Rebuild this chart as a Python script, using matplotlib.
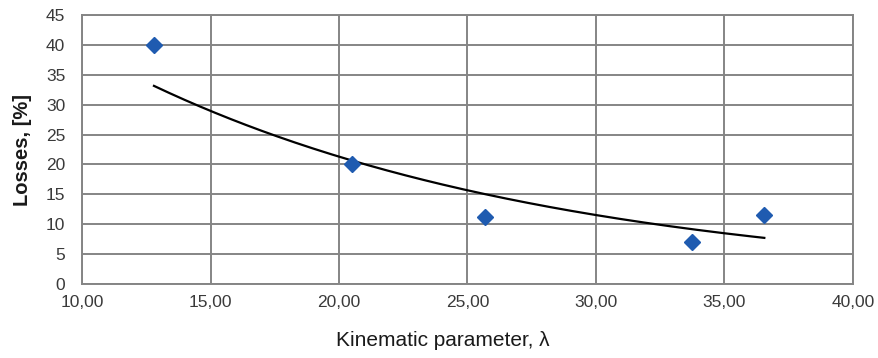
import numpy as np
import matplotlib.pyplot as plt
from matplotlib.ticker import FuncFormatter

lam = [12.8, 20.5, 25.7, 33.75, 36.55]
losses = [40.0, 20.0, 11.2, 7.0, 11.6]

x_ticks = [10, 15, 20, 25, 30, 35, 40]
y_ticks = [0, 5, 10, 15, 20, 25, 30, 35, 40, 45]

# exponential trend line (Excel style) fitted to the points
b, ln_a = np.polyfit(lam, np.log(losses), 1)
xs = np.linspace(min(lam), max(lam), 200)
ys = np.exp(ln_a) * np.exp(b * xs)

plt.rcParams['font.family'] = ['Liberation Sans', 'DejaVu Sans']

fig = plt.figure(figsize=(8.79, 3.58), dpi=100)
ax = fig.add_axes([0.0933, 0.2067, 0.8771, 0.7513])

ax.plot(xs, ys, color='black', lw=1.6, zorder=3)
ax.plot(lam, losses, linestyle='none', marker='D', markersize=8,
        color='#1f5bb0', markeredgecolor='#1f5bb0', zorder=4)

ax.set_xlim(10, 40)
ax.set_ylim(0, 45)
ax.set_xticks(x_ticks)
ax.set_yticks(y_ticks)
ax.xaxis.set_major_formatter(FuncFormatter(lambda v, p: ('%.2f' % v).replace('.', ',')))
ax.grid(True, color='#858585', lw=1.4)
ax.set_axisbelow(True)
for s in ax.spines.values():
    s.set_color('#858585')
    s.set_linewidth(1.4)
ax.tick_params(length=0, labelsize=12.5, colors='#3a3a3a', pad=8)
ax.tick_params(axis='y', pad=12)

ax.set_xlabel('Kinematic parameter, λ', fontsize=15, color='#1a1a1a')
ax.xaxis.set_label_coords(0.468, -0.175)
ax.set_ylabel('Losses, [%]', fontsize=14.5, fontweight='bold', color='#1a1a1a', labelpad=10)

plt.savefig('out.png', dpi=100)
